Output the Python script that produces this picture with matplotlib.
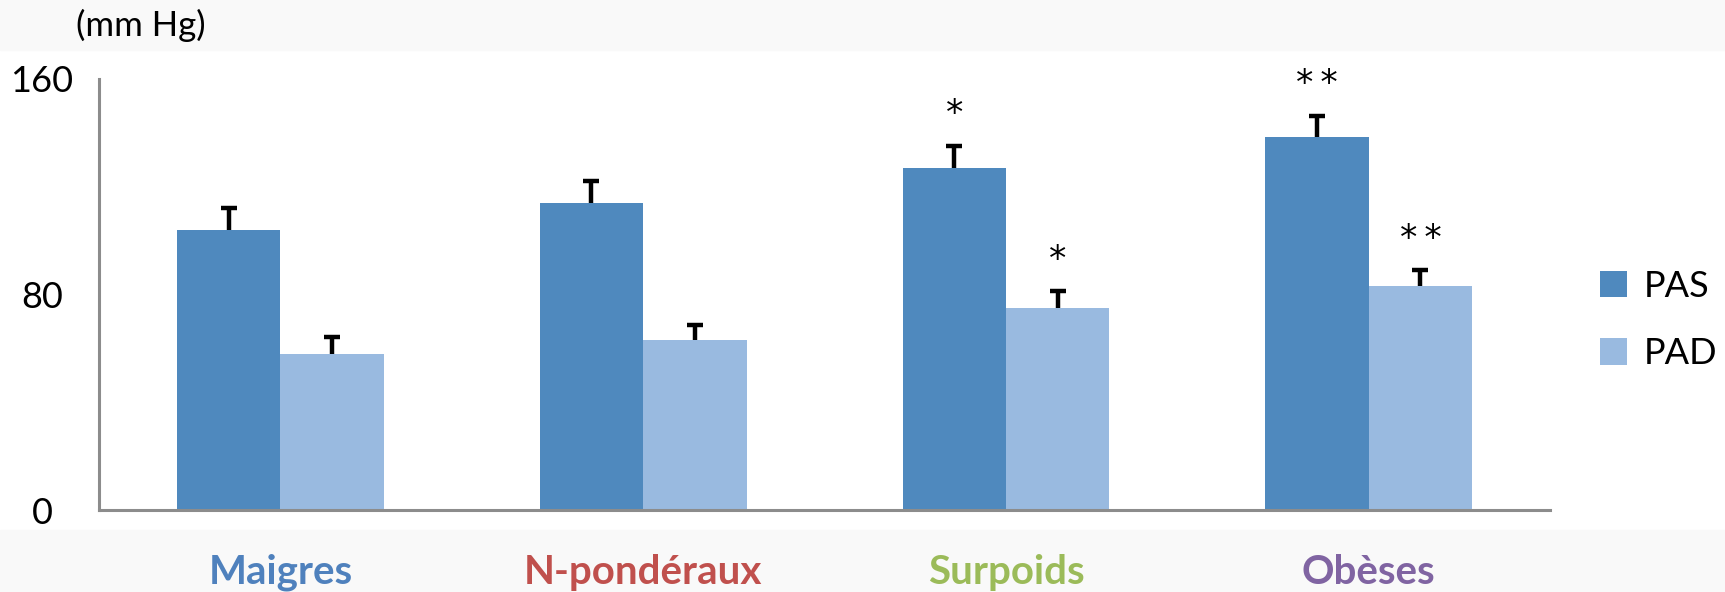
import matplotlib.pyplot as plt
import matplotlib.patches as mpatches
import numpy as np

plt.rcParams['font.family'] = ['Lato', 'DejaVu Sans']

categories = ['Maigres', 'N-pondéraux', 'Surpoids', 'Obèses']
cat_colors = ['#4F81BD', '#C0504D', '#9BBB59', '#8064A2']
pas = [104, 114, 127, 138.5]
pas_err = [8, 8, 8, 7.8]
pad = [58, 63, 75, 83]
pad_err = [6.4, 5.8, 6.4, 6]
pas_stars = ['', '', '*', '**']
pad_stars = ['', '', '*', '**']

fig = plt.figure(figsize=(17.25, 5.92), dpi=100)
# light bands at top and bottom of the figure
fig.patches.append(mpatches.Rectangle((0, 1 - 50 / 592), 1, 50 / 592,
                                      transform=fig.transFigure,
                                      color='#f9f9f9', zorder=-1))
fig.patches.append(mpatches.Rectangle((0, 0), 1, 62 / 592,
                                      transform=fig.transFigure,
                                      color='#f9f9f9', zorder=-1))

ax = fig.add_axes([0.0574, 0.1385, 0.8412, 0.7281])
ax.patch.set_alpha(0)

x = np.arange(len(categories))
w = 0.285
ax.bar(x - w / 2, pas, w, color='#4F89BE', label='PAS', zorder=2)
ax.bar(x + w / 2, pad, w, color='#99BAE0', label='PAD', zorder=2)

# upper error bars only: hide the lower caps
for xs, vals, errs in [(x - w / 2, pas, pas_err), (x + w / 2, pad, pad_err)]:
    eb = ax.errorbar(xs, vals, yerr=[np.zeros(len(vals)), errs], fmt='none',
                     ecolor='black', elinewidth=3.2, capsize=5.8,
                     capthick=3.2, zorder=3)
    eb[1][0].set_visible(False)

for i in range(len(categories)):
    if pas_stars[i]:
        ax.text(x[i] - w / 2, pas[i] + pas_err[i] + 12,
                '\u2009'.join(pas_stars[i]), ha='center', va='center',
                fontsize=25, family='DejaVu Sans')
    if pad_stars[i]:
        ax.text(x[i] + w / 2, pad[i] + pad_err[i] + 11.5,
                '\u2009'.join(pad_stars[i]), ha='center', va='center',
                fontsize=25, family='DejaVu Sans')

ax.set_xlim(-0.5, 3.5)
ax.set_ylim(0, 160)
ax.set_yticks([0, 80, 160])
ax.set_yticklabels(['0', '80', '160'], ha='center')
ax.tick_params(axis='y', length=0, labelsize=26, pad=41)
ax.set_xticks([])
for side in ['top', 'right']:
    ax.spines[side].set_visible(False)
for side in ['left', 'bottom']:
    ax.spines[side].set_color('#8c8c8c')
    ax.spines[side].set_linewidth(2.2)

for i, name in enumerate(categories):
    ax.text(x[i], -0.171, name, transform=ax.get_xaxis_transform(),
            ha='center', va='baseline', fontsize=29, fontweight='bold',
            color=cat_colors[i])

fig.text(141 / 1725, 1 - 25 / 592, '(mm Hg)', ha='center', va='center',
         fontsize=25)

fig.legend(*ax.get_legend_handles_labels(), loc='center left',
           bbox_to_anchor=(1600 / 1725, 1 - 320 / 592), frameon=False,
           fontsize=26, handlelength=0.75, handleheight=0.75,
           labelspacing=0.95, handletextpad=0.45, borderpad=0,
           borderaxespad=0)

fig.savefig('out.png', dpi=100)
